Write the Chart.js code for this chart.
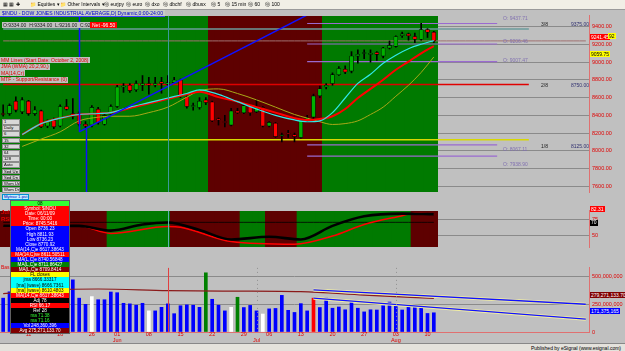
<!DOCTYPE html>
<html>
<head>
<meta charset="utf-8">
<script src="https://cdn.jsdelivr.net/npm/chart.js@4.4.1/dist/chart.umd.min.js"></script>
<style>
  body { margin: 0; width: 625px; height: 351px; overflow: hidden; background: #c0c0c0; position: relative;
         font-family: "Liberation Sans", Arial, sans-serif; }
  canvas { position: absolute; left: 0; }
  .abs { position: absolute; white-space: nowrap; line-height: 1; }
  #toolbar { left: 0; top: 0; width: 625px; height: 9px; background: #f1efe6; border-bottom: 1px solid #9a9a9a;
             font-size: 5px; color: #000; }
  #toolbar span { position: absolute; top: 2px; }
  .lbl { font-size: 5px; }
  #info { left: 10px; top: 200px; width: 58px; border: 1px solid #606060; }
  #info div { height: 5.1px; font-size: 4.6px; text-align: center; line-height: 5.1px; overflow: hidden; }
  #btns { left: 2px; top: 119px; width: 18px; }
  #btns div { box-sizing: border-box; height: 5.6px; margin-bottom: 0.6px; background: #d8d8d8;
              border: 1px solid #8c8c8c; font-size: 4.2px; line-height: 3.6px; padding-left: 1px; overflow: hidden; }
  #status { left: 0; top: 343px; width: 625px; height: 8px; background: #e4e2dc; border-top: 1px solid #888; }
</style>
</head>
<body>
<canvas id="c1" width="625" height="193" style="top:10px"></canvas>
<canvas id="c2" width="625" height="53" style="top:205px"></canvas>
<canvas id="c3" width="625" height="81" style="top:262px"></canvas>

<div id="toolbar" class="abs">
  <span style="left:3px">&#9638; &#9638; &#10010;</span>
  <span style="left:30px">&#128193; Equities &#9662;</span>
  <span style="left:60px">&#128193; Other Intervals &#9662;</span>
  <span style="left:104px">&#9424; eurjpy</span>
  <span style="left:126px">&#9424; euro</span>
  <span style="left:145px">&#9424; dxo</span>
  <span style="left:163px">&#9424; dbchf</span>
  <span style="left:186px">&#9424; dbusx</span>
  <span style="left:211px">&#9424; 5</span>
  <span style="left:225px">&#9424; 15 min</span>
  <span style="left:248px">&#9424; 60</span>
  <span style="left:265px">&#9424; 100</span>
</div>

<div class="abs lbl" style="left:0;top:10px;background:#c8ccc8;color:#0000d0;padding:0.5px 2px;border-bottom:1px solid #4040ff;font-size:5.1px">$INDU - DOW JONES INDUSTRIAL AVERAGE,D| Dynamic,0:00-24:00</div>
<div class="abs lbl" style="left:2px;top:22px;background:#c0c0c0;color:#202020;padding:0.5px 1px">O:9334.00 &nbsp;H:9334.00 &nbsp;L:9216.00 &nbsp;C:9241.45</div>
<div class="abs lbl" style="left:90px;top:22px;background:#ff0000;color:#fff;padding:0.5px 2px">Net -96.50</div>

<div class="abs lbl" style="left:0;top:57px;background:#c0c0c0;color:#e00000;padding:0.5px 1px">MM Lines (Start Date: October 2, 2008)</div>
<div class="abs lbl" style="left:0;top:63.5px;background:#c0c0c0;color:#e00000;padding:0.5px 1px">JMA (WMA) 20,2,90,)</div>
<div class="abs lbl" style="left:0;top:70px;background:#c0c0c0;color:#e00000;padding:0.5px 1px">MA(14,Cr)</div>
<div class="abs lbl" style="left:0;top:76.5px;background:#c0c0c0;color:#e00000;padding:0.5px 1px">MTF - Support/Resistance (0)</div>

<div id="btns" class="abs">
  <div>1</div><div>Daily</div><div>6</div><div>15</div><div>32</div><div>64</div><div>128</div>
  <div>Auto</div><div>Spd Up</div><div>Spd Dn</div><div>Wom Up</div><div>Wom Dn</div>
</div>
<div class="abs lbl" style="left:2px;top:194px;background:#bfefff;color:#0000c0;border:1px solid #0090d0;font-size:4.3px;padding:0 1px">Mytrav 1.pst</div>

<div class="abs lbl" style="left:1px;top:209px;color:#e00000;font-weight:bold;font-size:6px">Jul</div>
<div class="abs lbl" style="left:1px;top:216px;color:#e00000;font-weight:bold;font-size:6px">RSI</div>
<div class="abs lbl" style="left:1px;top:265px;color:#e00000;font-size:5px">Bas</div>

<!-- level labels in the empty right area -->
<div class="abs lbl" style="left:503px;top:15.5px;color:#8070b0">O: 9437.71</div>
<div class="abs lbl" style="left:503px;top:38.5px;color:#8070b0">O: 9206.46</div>
<div class="abs lbl" style="left:503px;top:57.5px;color:#8070b0">O: 9007.47</div>
<div class="abs lbl" style="left:503px;top:147px;color:#8070b0">O: 8067.11</div>
<div class="abs lbl" style="left:503px;top:161.5px;color:#8070b0">O: 7938.90</div>
<div class="abs lbl" style="left:541px;top:22px;color:#202020">3/8</div>
<div class="abs lbl" style="left:571px;top:22px;color:#303070">9375.00</div>
<div class="abs lbl" style="left:541px;top:82.5px;color:#202020">2/8</div>
<div class="abs lbl" style="left:571px;top:82.5px;color:#303070">8750.00</div>
<div class="abs lbl" style="left:541px;top:143.5px;color:#202020">1/8</div>
<div class="abs lbl" style="left:571px;top:143.5px;color:#303070">8125.00</div>

<div class="abs lbl" style="left:590px;top:34px;background:#ff0000;color:#fff;padding:0.5px 1px">9241.45</div>
<div class="abs lbl" style="left:608px;top:33px;background:#ffff00;color:#000;padding:0.5px 1px">92</div>
<div class="abs lbl" style="left:590px;top:51px;background:#ffff00;color:#000;padding:0.5px 1px">9059.75</div>
<div class="abs lbl" style="left:590px;top:206px;background:#ff0000;color:#fff;padding:0.5px 1px">82.31</div>
<div class="abs lbl" style="left:590px;top:219.5px;background:#000;color:#fff;padding:0.5px 1px">70</div>
<div class="abs lbl" style="left:590px;top:292px;background:#800000;color:#fff;padding:0.5px 1px">279,271,133.70</div>
<div class="abs lbl" style="left:590px;top:308px;background:#0000ff;color:#fff;padding:0.5px 1px">171,375,165</div>

<div id="info" class="abs"></div>

<div id="status" class="abs"><span class="abs lbl" style="right:4px;top:1.5px;color:#000">Published by eSignal (www.esignal.com)</span></div>

<script>
// ---- data ----
const N = 93; // 69 trading days + empty slots on the right
const days = ['05','06','07','08','11','12','13','14','15','18','19','20','21','22','26','27','28','29',
  '01','02','03','04','05','08','09','10','11','12','15','16','17','18','19','22','23','24','25','26','29','30',
  '01','02','06','07','08','09','10','13','14','15','16','17','20','21','22','23','24','27','28','29','30','31',
  '03','04','05','06','07','10','11'];

const opens  = [8420,8420,8560,8440,8560,8420,8450,8280,8340,8280,8500,8420,8420,8300,8290,8470,8300,8410,8500,8720,
                8740,8690,8740,8760,8740,8780,8750,8770,8800,8610,8500,8490,8575,8550,8360,8330,8290,8450,8430,8510,
                8440,8490,8280,8310,8170,8200,8180,8150,8340,8380,8620,8720,8760,8860,8920,8900,9070,9100,9090,9110,
                9070,9160,9180,9300,9320,9290,9260,9370,9340];
const highs  = [8520,8530,8610,8600,8570,8500,8460,8350,8370,8520,8580,8590,8440,8330,8510,8490,8420,8520,8740,8760,
                8760,8790,8850,8830,8830,8830,8850,8830,8810,8620,8540,8600,8600,8560,8370,8400,8480,8480,8530,8520,
                8580,8500,8330,8320,8200,8230,8200,8360,8400,8640,8730,8760,8880,8950,8960,9120,9140,9140,9140,9120,
                9170,9240,9300,9340,9330,9330,9440,9380,9350];
const lows   = [8390,8400,8440,8420,8400,8400,8260,8260,8250,8270,8460,8360,8280,8260,8270,8300,8290,8390,8490,8660,
                8660,8670,8680,8640,8720,8650,8740,8760,8600,8480,8460,8470,8520,8330,8290,8270,8280,8420,8420,8400,
                8430,8270,8270,8150,8100,8150,8100,8140,8330,8360,8600,8700,8740,8850,8870,8880,8990,9040,9000,9020,
                9050,9150,9170,9280,9250,9220,9250,9280,9220];
const closes = [8410,8510,8460,8575,8420,8460,8270,8330,8270,8500,8470,8390,8300,8280,8490,8320,8400,8500,8720,8730,
                8680,8760,8760,8740,8760,8760,8770,8800,8620,8500,8510,8560,8545,8340,8350,8320,8450,8430,8510,8430,
                8490,8280,8320,8160,8180,8190,8160,8340,8370,8620,8700,8740,8860,8930,8890,9070,9090,9110,9100,9090,
                9160,9190,9290,9320,9300,9260,9370,9340,9240];

// moving averages, [day index, value]
const maFast = [[3,8183],[6,8307],[9,8369],[12,8410],[15,8421],[17,8431],[20,8493],[23,8544],[26,8596],[29,8647],
  [31,8689],[34,8637],[37,8555],[40,8472],[43,8400],[46,8348],[48,8328],[50,8338],[52,8431],[54,8596],[56,8761],
  [58,8864],[60,8988],[62,9080],[64,9153],[66,9204],[68,9245]];
const maMid = [[3,8183],[6,8307],[9,8369],[12,8410],[15,8421],[17,8431],[20,8482],[23,8534],[26,8586],[29,8637],
  [31,8668],[34,8606],[37,8555],[40,8493],[43,8431],[46,8369],[48,8348],[50,8359],[52,8390],[54,8472],[56,8596],
  [58,8699],[60,8802],[62,8915],[64,9008],[66,9101],[68,9183]];
const maSlow = [[3,8049],[6,8132],[9,8214],[12,8338],[15,8379],[17,8390],[20,8390],[23,8431],[26,8493],[29,8606],
  [31,8678],[34,8699],[37,8647],[40,8575],[43,8493],[46,8410],[48,8369],[50,8328],[52,8297],[54,8307],[56,8338],
  [58,8410],[60,8493],[62,8616],[64,8740],[66,8885],[68,9060]];
const trendUp = [[12,8214],[48,9534]];

const mmLevels = [9375, 8750, 8125];
const openLevels = [9437.71, 9206.46, 9007.47, 8067.11, 7938.90];
const lastPrice = 9241.45;
const priceTicks = [7600,7800,8000,8200,8400,8600,8800,9000,9200,9400];
const mainZones = [[0,32,'g'],[33,50,'r'],[51,68,'g']];

// oscillator
const oscBlack = [[0,65],[12,64.6],[17,57.3],[22,66.7],[26,69.8],[31,58.3],[36,43.8],[42,47.9],[47,43.8],
  [52,64.6],[57,79.2],[63,83.3],[68,82.3]];
const oscRed = [[0,66],[12,64.6],[17,53.1],[26,63.5],[28,62.5],[36,40.6],[46,36.5],[52,49],[57,66.7],
  [63,80.2],[65,84.4],[68,82.3]];
const oscLevel = 70;
const oscTicks = [50, 75];
const oscZones = [[0,16,'r'],[17,26,'g'],[27,37,'r'],[38,41,'g'],[42,46,'r'],[47,64,'g'],[65,68,'r']];

// volume, millions
const volume = [303,360,330,380,300,280,330,310,270,300,290,467,303,248,317,289,289,358,352,257,
                252,240,257,189,189,221,252,164,235,243,240,221,530,293,240,189,221,311,219,238,
                189,161,207,211,328,194,175,254,189,303,219,303,213,224,199,270,213,180,199,197,
                235,268,230,197,240,240,219,166,172];
const whiteDays = [14,23,36,41];
const greenDays = [32,37];
const redDays = [49];
const volAvg = [[0,344],[8,380],[15,385],[26,371],[36,366],[47,361],[57,330],[68,300]];
const volTrendHi = [[49,377],[92,248]];
const volTrendLo = [[49,303],[92,115]];
const volTicks = [0, 250, 500];
const axisTicks = [[4,'11'],[9,'18'],[14,'26'],[18,'01','Jun'],[23,'08'],[28,'15'],[33,'22'],[38,'29'],
  [40,'','Jul'],[42,'06'],[47,'13'],[52,'20'],[57,'27'],[62,'03','Aug'],[67,'10']];

// ---- helpers ----
const labels = Array.from({length: N}, (_, i) => days[i] || '');
const D = days.length;
function series(pts) { const a = new Array(N).fill(null); pts.forEach(p => a[p[0]] = p[1]); return a; }
function level(v, from, to) { return labels.map((_, i) => (i >= from && i <= to) ? v : null); }
function zoneColors(zones, g, r) {
  const c = new Array(D).fill(g);
  zones.forEach(z => { for (let i = z[0]; i <= z[1]; i++) c[i] = z[2] === 'g' ? g : r; });
  return c;
}
const GREEN = '#007a00', DRED = '#5e0000';
const font = {family: 'Liberation Sans', size: 5.5, lineHeight: 1.05};

function lineDs(data, color, width, order, extra) {
  return Object.assign({type: 'line', data, borderColor: color, borderWidth: width, pointRadius: 0,
    spanGaps: true, order, cubicInterpolationMode: 'monotone'}, extra || {});
}
function bgDs(min, max, zones) {
  return {type: 'bar', data: days.map(() => [min, max]), backgroundColor: zoneColors(zones, GREEN, DRED),
    barPercentage: 1, categoryPercentage: 1, grouped: false, order: 100, inflateAmount: 1};
}

const vlines = {
  id: 'vlines',
  afterDatasetsDraw(chart, args, opts) {
    const ctx = chart.ctx, x = chart.scales.x, y = chart.scales.y;
    (opts.lines || []).forEach(l => {
      const px = Math.round(x.getPixelForValue(l.i)) + 0.5;
      ctx.save();
      ctx.strokeStyle = l.color; ctx.lineWidth = l.w || 1;
      if (l.dash) ctx.setLineDash(l.dash);
      ctx.beginPath();
      ctx.moveTo(px, l.from != null ? y.getPixelForValue(l.from) : chart.chartArea.top);
      ctx.lineTo(px, l.to != null ? y.getPixelForValue(l.to) : chart.chartArea.bottom);
      ctx.stroke(); ctx.restore();
    });
  }
};

function baseOptions(min, max, ticks, fmt, xDisplay) {
  return {
    responsive: false, animation: false, devicePixelRatio: 1,
    layout: {padding: 0},
    plugins: {legend: {display: false}, tooltip: {enabled: false}},
    scales: {
      x: {type: 'category', offset: true, display: xDisplay,
          grid: {display: false, drawTicks: false}, border: {color: '#e07070'},
          ticks: {autoSkip: false, maxRotation: 0, color: '#e00000', font, padding: 0,
                  callback: (v, i) => { const t = axisTicks.find(a => a[0] === i); return t ? t.slice(1) : ''; }},
          afterFit: s => { s.height = 11; }},
      y: {position: 'right', min, max,
          afterBuildTicks: s => { s.ticks = ticks.map(v => ({value: v})); },
          afterFit: s => { s.width = 36; },
          grid: {color: '#8a8a8a', drawTicks: false},
          border: {color: '#e07070'},
          ticks: {color: '#e00000', font, padding: 3, callback: fmt}}
    }
  };
}

// ---- price panel ----
const bodyColors = days.map((_, i) => closes[i] >= opens[i] ? '#00b000' : '#ff0000');
const PMIN = 7534, PMAX = 9524;
const o1 = baseOptions(PMIN, PMAX, priceTicks, v => v.toFixed(2), false);
o1.plugins.vlines = {lines: [
  {i: 26, color: '#3a9a9a'},
  {i: 12, color: '#1010ff', w: 1.5, to: 8214},
  {i: 13, color: '#1010ff', w: 1.5, from: 8250}
]};

new Chart(document.getElementById('c1'), {
  type: 'bar',
  data: {labels, datasets: [
    bgDs(PMIN, PMAX, mainZones),
    lineDs(level(lastPrice, 0, 92), '#a07070', 1, 60),
    lineDs(level(mmLevels[0], 0, 83), '#6c9c9c', 1.5, 55),
    lineDs(level(mmLevels[1], 0, 83), '#e00000', 1.5, 55),
    lineDs(level(mmLevels[2], 0, 83), '#d8d800', 1.5, 55),
    ...openLevels.map(v => lineDs(level(v, 48, 78), '#9a6ad0', 1.2, 54)),
    {type: 'bar', data: days.map((_, i) => [lows[i], highs[i]]), backgroundColor: '#000', barThickness: 1,
     grouped: false, order: 20},
    {type: 'bar', data: days.map((_, i) => [opens[i], closes[i]]), backgroundColor: bodyColors,
     borderColor: '#000', borderWidth: 0.6, borderSkipped: false, barThickness: 4, grouped: false, order: 19},
    lineDs(series(maSlow), '#a8a818', 1, 8),
    lineDs(series(maMid), '#ff0000', 2, 7),
    lineDs(series(maFast), '#30e8e8', 1.2, 6),
    lineDs(series(trendUp), '#1010ff', 1.5, 5, {cubicInterpolationMode: 'default', tension: 0})
  ]},
  options: o1,
  plugins: [vlines]
});

// ---- oscillator panel ----
const o2 = baseOptions(32.3, 87.5, oscTicks, v => String(v), false);
o2.plugins.vlines = {lines: [{i: 26, color: '#5ab0b0'}]};
new Chart(document.getElementById('c2'), {
  type: 'bar',
  data: {labels, datasets: [
    bgDs(32.3, 87.5, oscZones),
    lineDs(level(oscLevel, 0, 68), '#000', 0.8, 30),
    lineDs(series(oscRed), '#ff0000', 1.5, 9),
    lineDs(series(oscBlack), '#000', 2.6, 8)
  ]},
  options: o2,
  plugins: [vlines]
});

// ---- volume panel ----
const volColors = days.map((_, i) => whiteDays.includes(i) ? '#ffffff' : greenDays.includes(i) ? '#008000'
  : redDays.includes(i) ? '#ff0000' : '#0000ff');
const o3 = baseOptions(0, 574, volTicks, v => (v * 1e6).toLocaleString('en-US'), true);
o3.plugins.vlines = {lines: [{i: 26, color: '#e04040'}, {i: 40, color: '#909090', dash: [1, 3]},
  {i: 62, color: '#909090', dash: [1, 3]}]};
new Chart(document.getElementById('c3'), {
  type: 'bar',
  data: {labels, datasets: [
    {type: 'bar', data: volume, backgroundColor: volColors, barThickness: 3, grouped: false, order: 20},
    lineDs(series(volAvg), '#8b1a1a', 1.2, 9),
    lineDs(series(volTrendHi), '#f4f0a0', 3, 8, {cubicInterpolationMode: 'default'}),
    lineDs(series(volTrendHi), '#1010ff', 1.4, 7, {cubicInterpolationMode: 'default'}),
    lineDs(series(volTrendLo), '#f4f0a0', 3, 8, {cubicInterpolationMode: 'default'}),
    lineDs(series(volTrendLo), '#1010ff', 1.4, 7, {cubicInterpolationMode: 'default'})
  ]},
  options: o3,
  plugins: [vlines]
});

// ---- info box ----
const infoRows = [
  ['#33ff33','#000','08'], ['#ff0000','#fff','Symbol: $INDU'], ['#ff0000','#fff','Date: 06/11/09'],
  ['#ff0000','#fff','Time: 00:00'], ['#ff0000','#fff','Price: 8745.5416'], ['#0000ff','#fff','Open 8736.23'],
  ['#0000ff','#fff','High 8811.93'], ['#0000ff','#fff','Low 8736.23'], ['#0000ff','#fff','Close 8770.92'],
  ['#0000ff','#fff','MA(14,C)e 8617.38643'], ['#ff0000','#fff','MA(14,C)ve 8611.50511'],
  ['#0000ff','#fff','MA(L,C)e 8740.56848'], ['#008000','#fff','MA(L,C)e 8711.86427'],
  ['#800000','#fff','MA(L,C)e 8709.8414'], ['#ffff00','#000','FL closes'], ['#00ffff','#000','jma 8666.33317'],
  ['#00ffff','#000','[ma] (wave) 8666.7361'], ['#ffff00','#000','[ma] (wave) 8610.4803'],
  ['#ff0000','#fff','MA(14,C)e 8617.38643'], ['#000000','#fff','Adj 78'], ['#ff0000','#fff','RSI 66.17'],
  ['#000000','#fff','Ref 28'], ['#000000','#3f3','ma 71.38'], ['#000000','#3f3','ma 71.16'],
  ['#0000ff','#fff','Vol 248,360,396'], ['#800000','#fff','Avg 275,271,133.70']
];
document.getElementById('info').innerHTML = infoRows.map(r =>
  `<div style="background:${r[0]};color:${r[1]}">${r[2]}</div>`).join('');
</script>
</body>
</html>
